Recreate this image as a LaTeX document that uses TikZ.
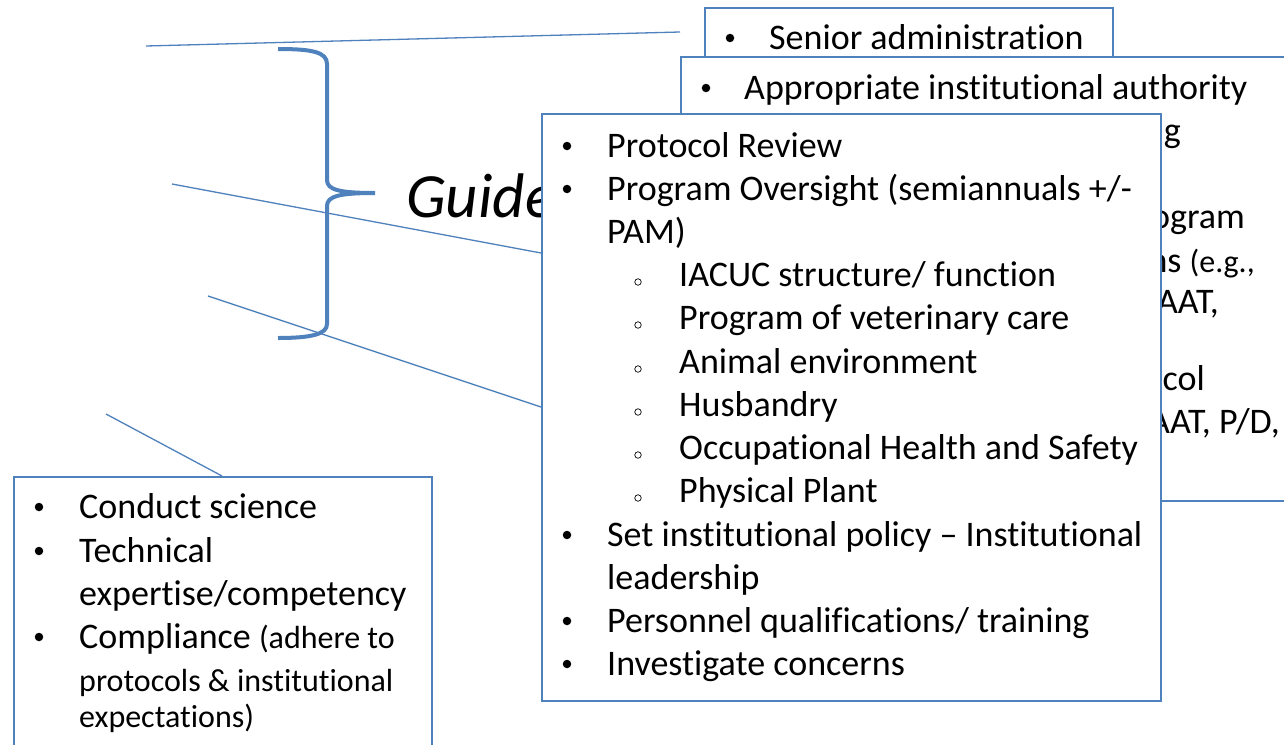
\documentclass[tikz,border=0pt]{standalone}
\usepackage{fontspec}
\setmainfont{Carlito}[Ligatures={TeX,NoCommon}]
\usepackage{tikz}
\usetikzlibrary{positioning,backgrounds}

\definecolor{offblue}{RGB}{79,129,189}

\tikzset{
  box/.style={draw=offblue, line width=1.5pt, fill=white, anchor=north west, inner sep=0pt},
  link/.style={draw=offblue, line width=1.3pt},
  dot/.style={circle, fill=black, inner sep=0pt, minimum size=8.5pt},
  ring/.style={circle, draw=black, line width=0.7pt, inner sep=0pt, minimum size=6.5pt},
  txt/.style={anchor=base west, inner sep=0pt, font=\fontsize{36}{42}\selectfont},
  smalltxt/.style={anchor=base west, inner sep=0pt, font=\fontsize{32}{38}\selectfont},
  frag/.style={anchor=base east, inner sep=0pt, font=\fontsize{36}{42}\selectfont},
}
\newcommand{\smallpart}{\fontsize{32}{38}\selectfont}

\begin{document}
\begin{tikzpicture}[x=1pt, y=-1pt]
\clip (0,0) rectangle (1284,744);

% Boxes, back to front
\node[box, minimum width=408pt, minimum height=60pt] (boxA) at (704,7) {};
\node[dot] (a0) at (730,38) {};
\node[txt] (a1) at (769,49) {Senior administration};

\node[box, minimum width=620pt, minimum height=444pt] (boxB) at (680,56) {};
\node[dot] (b0) at (706,88) {};
\node[txt] (b1) at (744,99) {Appropriate institutional authority};
% what is left of box B beside the front box
\node[frag] (bf1) at (1181,142) {g};
\node[frag] (bf2) at (1245,228) {ogram};
\node[frag] (bf3) at (1255,272) {ns {\smallpart (e.g.,}};
\node[frag] (bf4) at (1219,313) {AAT,};
\node[frag] (bf5) at (1205,390) {col};
\node[frag] (bf6) at (1280,433) {AAT, P/D,};

\node[box, minimum width=619pt, minimum height=587pt] (boxC) at (541,113) {};
\foreach \n/\y/\t in {1/157/Protocol Review, 2/200/{Program Oversight (semiannuals +/-},
    3/546/{Set institutional policy -- Institutional}, 4/632/{Personnel qualifications/ training},
    5/675/Investigate concerns} {
  \node[dot] (cb\n) at (567,\y-11) {};
  \node[txt] (ct\n) at (607,\y) {\t};
}
\node[txt] (ct2b) at (607,243) {PAM)};
\node[txt] (ct3b) at (607,589) {leadership};
% sub items of program oversight
\foreach \n/\y/\t in {1/286/{IACUC structure/ function}, 2/329/Program of veterinary care,
    3/373/Animal environment, 4/416/Husbandry, 5/459/Occupational Health and Safety,
    6/502/Physical Plant} {
  \node[ring] (cr\n) at (638,\y-4) {};
  \node[txt] (cs\n) at (679,\y) {\t};
}

\node[box, minimum width=418pt, minimum height=290pt] (boxD) at (13,476) {};
\foreach \n/\y in {1/518, 2/562, 3/648}
  \node[dot] (db\n) at (39,\y-11) {};
\node[txt] (dt1) at (79,518) {Conduct science};
\node[txt] (dt2) at (79,562) {Technical};
\node[txt] (dt3) at (79,605) {expertise/competency};
\node[txt] (dt4) at (79,648) {Compliance {\smallpart (adhere to}};
\node[smalltxt] (dt5) at (79,691) {protocols \& institutional};
\node[smalltxt] (dt6) at (79,727) {expectations)};

% brace, title and connectors sit behind the boxes
\begin{scope}[on background layer]
  \fill[white] (0,0) rectangle (1284,744);
  \node[anchor=base west, inner sep=0pt, font=\fontsize{63}{70}\selectfont\itshape] (guide) at (406,217) {Guide};
  \draw[offblue, line width=4pt] (278,49) .. controls (312,49) and (327,52) .. (327,64)
    -- (327,180) .. controls (327,190) and (340,193) .. (375,193)
    .. controls (340,193) and (327,196) .. (327,206)
    -- (327,324) .. controls (327,334) and (312,338) .. (278,338);
  \coordinate (l1) at (146,46);
  \coordinate (l2) at (172,184);
  \coordinate (l3) at (208,296);
  \coordinate (l4) at (106,414);
  \draw[link] (l1) -- (boxB.west |- 0,32);
  \draw[link] (l2) -- (boxC.west |- 0,253);
  \draw[link] (l3) -- (boxC.west |- 0,407);
  \draw[link] (l4) -- (boxD.north -| 222,0);
\end{scope}
\end{tikzpicture}
\end{document}
